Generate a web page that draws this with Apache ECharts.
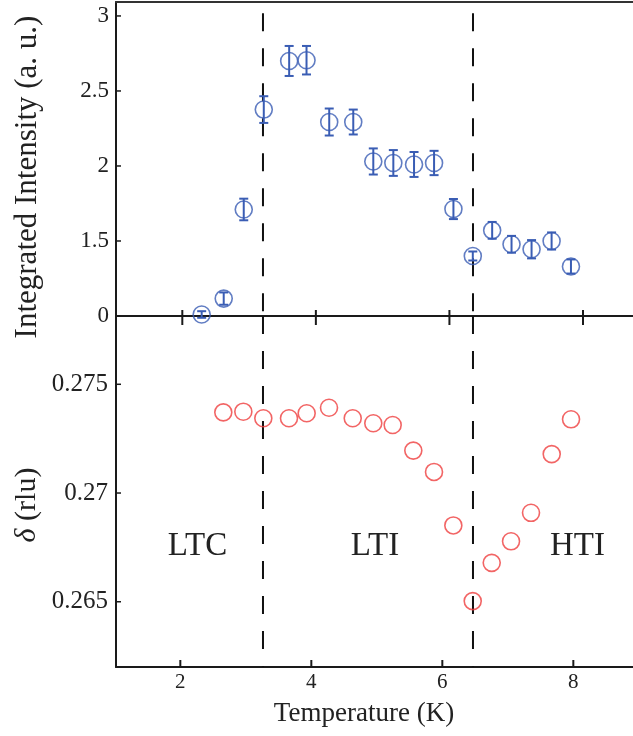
<!DOCTYPE html>
<html>
<head>
<meta charset="utf-8">
<script src="https://cdn.jsdelivr.net/npm/echarts@6/dist/echarts.min.js"></script>
<style>html,body{margin:0;padding:0;background:#fff}#c{width:633px;height:736px}</style>
</head>
<body>
<div id="c"></div>
<script>
// ---- data ----
// top panel: integrated intensity vs temperature
const topTemps = [2.29, 2.62, 2.92, 3.22, 3.60, 3.86, 4.20, 4.56, 4.86, 5.16, 5.47, 5.77, 6.06, 6.35, 6.64, 6.93, 7.23, 7.53, 7.82];
const topIntensity = [1.01, 1.116, 1.71, 2.376, 2.70, 2.705, 2.293, 2.293, 2.03, 2.02, 2.01, 2.02, 1.713, 1.40, 1.571, 1.478, 1.445, 1.50, 1.33];
const topErrors = [0.022, 0.041, 0.072, 0.089, 0.10, 0.095, 0.09, 0.083, 0.087, 0.086, 0.083, 0.081, 0.067, 0.03, 0.056, 0.056, 0.061, 0.057, 0.047];
// bottom panel: incommensurability delta vs temperature
const botTemps = [2.656, 2.962, 3.267, 3.659, 3.929, 4.27, 4.632, 4.946, 5.242, 5.557, 5.873, 6.168, 6.464, 6.754, 7.049, 7.354, 7.67, 7.965];
const botDelta = [0.27371, 0.27374, 0.27344, 0.27344, 0.27367, 0.27392, 0.27344, 0.27321, 0.27313, 0.27195, 0.27097, 0.26851, 0.26503, 0.26679, 0.26778, 0.26909, 0.27179, 0.27339];
// phase boundaries (dashed lines), in each panel's axis units
const transitionsTop = [3.208, 6.353];
const transitionsBot = [3.262, 6.468];
const dashTopValue = 3.018;
// tick values / labels
const xTickValues = [2, 4, 6, 8];
const topTickValues = [1, 1.5, 2, 2.5, 3];
const topTickLabels = ['0', '1.5', '2', '2.5', '3'];
const botTickValues = [0.265, 0.27, 0.275];
const botTickLabels = ['0.265', '0.27', '0.275'];
const phaseLabels = ['LTC', 'LTI', 'HTI'];

// ---- style ----
const FONT = 'Liberation Serif';
const BLUE = '#3a5db4';
const RED = '#ef3f3f';
const INK = '#1a1a1a';
const TXT = '#222';

const chart = echarts.init(document.getElementById('c'), null, {renderer: 'canvas'});

const topX = {min: 1.007, max: 8.749};
const botX = {min: 1.018, max: 8.911};
const topY = {min: 1, max: 3.093};
const botY = {min: 0.262, max: 0.27814};

function dashSeries(xs, yFrom, yTo, xIdx, yIdx) {
  return xs.map(x => ({
    type: 'line', xAxisIndex: xIdx, yAxisIndex: yIdx, silent: true,
    symbol: 'none', animation: false, z: 1,
    data: [[x, yFrom], [x, yTo]],
    lineStyle: {color: '#111', width: 2, type: [18, 17]}
  }));
}
// axis ticks drawn through the axes' scales (x ticks: up/down lengths at bottom edge)
function xTickSeries(xIdx, yIdx, values, yRef, up, down) {
  return {
    type: 'custom', xAxisIndex: xIdx, yAxisIndex: yIdx, silent: true, z: 5, clip: false,
    data: values.map(v => [v, yRef]),
    renderItem: (params, api) => {
      const cs = params.coordSys;
      const px = api.coord([api.value(0), api.value(1)])[0];
      const yb = cs.y + cs.height;
      return {type: 'line', shape: {x1: px, y1: yb - up, x2: px, y2: yb + down}, style: {stroke: INK, lineWidth: 2}};
    }
  };
}
function yTickSeries(xIdx, yIdx, values, xRef, len) {
  return {
    type: 'custom', xAxisIndex: xIdx, yAxisIndex: yIdx, silent: true, z: 5, clip: false,
    data: values.map(v => [xRef, v]),
    renderItem: (params, api) => {
      const cs = params.coordSys;
      const py = api.coord([api.value(0), api.value(1)])[1];
      return {type: 'line', shape: {x1: cs.x, y1: py, x2: cs.x + len, y2: py}, style: {stroke: INK, lineWidth: 1.5}};
    }
  };
}
function labelFmt(vals, labels) {
  return v => { const i = vals.findIndex(t => Math.abs(t - v) < 1e-9); return i >= 0 ? labels[i] : ''; };
}

const option = {
  animation: false,
  backgroundColor: '#fff',
  grid: [
    {left: 116, right: 0, top: 2, height: 314},
    {left: 116, right: 0, top: 316, height: 351}
  ],
  xAxis: [
    { // top grid bottom axis line
      type: 'value', gridIndex: 0, position: 'bottom', min: topX.min, max: topX.max,
      axisLine: {show: true, onZero: false, lineStyle: {color: INK, width: 2}},
      axisTick: {show: false}, axisLabel: {show: false}, splitLine: {show: false}
    },
    { // top grid top border
      type: 'value', gridIndex: 0, position: 'top', min: topX.min, max: topX.max,
      axisLine: {show: true, onZero: false, lineStyle: {color: '#333', width: 2}},
      axisTick: {show: false}, axisLabel: {show: false}, splitLine: {show: false}
    },
    { // bottom grid bottom axis (labelled)
      type: 'value', gridIndex: 1, position: 'bottom', min: botX.min, max: botX.max,
      axisLine: {show: true, onZero: false, lineStyle: {color: INK, width: 2}},
      axisTick: {show: false},
      axisLabel: {show: true, customValues: xTickValues, margin: 5, color: TXT, fontFamily: FONT, fontSize: 21},
      splitLine: {show: false}
    }
  ],
  yAxis: [
    {
      type: 'value', gridIndex: 0, position: 'left', min: topY.min, max: topY.max,
      axisLine: {show: true, onZero: false, lineStyle: {color: INK, width: 2}},
      axisTick: {show: false},
      axisLabel: {show: true, customValues: topTickValues, margin: 7, color: TXT, fontFamily: FONT, fontSize: 23,
        formatter: labelFmt(topTickValues, topTickLabels)},
      splitLine: {show: false}
    },
    {
      type: 'value', gridIndex: 1, position: 'left', min: botY.min, max: botY.max,
      axisLine: {show: true, onZero: false, lineStyle: {color: INK, width: 2}},
      axisTick: {show: false},
      axisLabel: {show: true, customValues: botTickValues, margin: 8, color: TXT, fontFamily: FONT, fontSize: 25,
        formatter: labelFmt(botTickValues, botTickLabels)},
      splitLine: {show: false}
    }
  ],
  series: [
    ...dashSeries(transitionsTop, dashTopValue, topY.min, 0, 0),
    ...dashSeries(transitionsBot, botY.max, botY.min, 2, 1),
    xTickSeries(0, 0, xTickValues, topY.min, 6, 9),
    xTickSeries(2, 1, xTickValues, botY.min, 7, 0),
    yTickSeries(0, 0, topTickValues, topX.min, 5),
    yTickSeries(2, 1, botTickValues, botX.min, 5),
    {
      type: 'custom', xAxisIndex: 0, yAxisIndex: 0, z: 3, silent: true,
      data: topTemps.map((t, i) => [t, topIntensity[i], topErrors[i]]),
      renderItem: (params, api) => {
        const x = api.value(0), y = api.value(1), e = api.value(2);
        const lo = api.coord([x, y - e]);
        const hi = api.coord([x, y + e]);
        const cap = 4.5;
        const st = {stroke: BLUE, lineWidth: 2};
        return {type: 'group', children: [
          {type: 'line', shape: {x1: lo[0], y1: lo[1], x2: hi[0], y2: hi[1]}, style: st},
          {type: 'line', shape: {x1: lo[0] - cap, y1: lo[1], x2: lo[0] + cap, y2: lo[1]}, style: st},
          {type: 'line', shape: {x1: hi[0] - cap, y1: hi[1], x2: hi[0] + cap, y2: hi[1]}, style: st}
        ]};
      }
    },
    {
      type: 'scatter', xAxisIndex: 0, yAxisIndex: 0, z: 4, silent: true,
      symbol: 'circle', symbolSize: 17,
      data: topTemps.map((t, i) => [t, topIntensity[i]]),
      itemStyle: {color: 'rgba(0,0,0,0)', borderColor: BLUE, borderWidth: 1.6}
    },
    {
      type: 'scatter', xAxisIndex: 2, yAxisIndex: 1, z: 4, silent: true,
      symbol: 'circle', symbolSize: 17,
      data: botTemps.map((t, i) => [t, botDelta[i]]),
      itemStyle: {color: 'rgba(0,0,0,0)', borderColor: RED, borderWidth: 1.6}
    }
  ],
  graphic: [
    {type: 'text', x: 28, y: 177, rotation: Math.PI / 2,
      style: {text: 'Integrated Intensity (a. u.)', font: '31px "' + FONT + '"', fill: TXT, align: 'center', verticalAlign: 'middle'}},
    {type: 'text', x: 27, y: 505, rotation: Math.PI / 2,
      style: {text: '{i|δ} (rlu)', font: '30px "' + FONT + '"', fill: TXT, align: 'center', verticalAlign: 'middle',
        rich: {i: {fontStyle: 'italic', fontFamily: FONT, fontSize: 30, fill: TXT}}}},
    {type: 'text', x: 364, y: 714,
      style: {text: 'Temperature (K)', font: '27px "' + FONT + '"', fill: TXT, align: 'center', verticalAlign: 'middle'}},
    {type: 'text', x: 197.5, y: 546,
      style: {text: phaseLabels[0], font: '33px "' + FONT + '"', fill: TXT, align: 'center', verticalAlign: 'middle'}},
    {type: 'text', x: 375, y: 546,
      style: {text: phaseLabels[1], font: '33px "' + FONT + '"', fill: TXT, align: 'center', verticalAlign: 'middle'}},
    {type: 'text', x: 577.5, y: 546,
      style: {text: phaseLabels[2], font: '33px "' + FONT + '"', fill: TXT, align: 'center', verticalAlign: 'middle'}}
  ]
};
chart.setOption(option);
</script>
</body>
</html>
